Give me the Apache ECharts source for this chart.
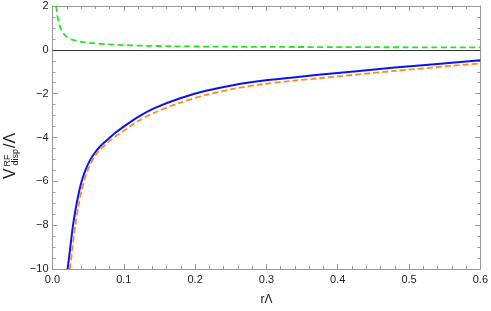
<!DOCTYPE html>
<html><head><meta charset="utf-8">
<script src="https://cdn.jsdelivr.net/npm/echarts@6/dist/echarts.min.js"></script>
<style>html,body{margin:0;padding:0;background:#fff}#c{width:491px;height:311px}</style>
</head><body><div id="c"></div>
<script>
// r·Λ values and V/Λ values
const blueR = [0.0212,0.0250,0.0289,0.0331,0.0374,0.0416,0.0465,0.0516,0.0586,0.0670,0.0779,0.0872,0.0970,0.1197,0.143,0.178,0.215,0.255,0.294,0.334,0.373,0.48,0.6];
const blueV = [-10,-9.0,-7.98,-7.15,-6.45,-5.92,-5.47,-5.1,-4.73,-4.4,-4.08,-3.81,-3.57,-3.07,-2.66,-2.22,-1.87,-1.6,-1.41,-1.27,-1.14,-0.81,-0.48];
const orangeR = [0.0244,0.0282,0.0321,0.0363,0.0406,0.0448,0.0497,0.0548,0.0618,0.0670,0.0779,0.0872,0.0970,0.1197,0.143,0.178,0.215,0.255,0.294,0.334,0.373,0.48,0.6];
const orangeV = [-10,-9.0,-7.98,-7.15,-6.45,-5.92,-5.47,-5.1,-4.73,-4.55,-4.22,-3.98,-3.76,-3.26,-2.87,-2.42,-2.06,-1.77,-1.57,-1.42,-1.3,-0.96,-0.62];
const greenR = [0.0049,0.0059,0.008,0.0105,0.0151,0.0195,0.0244,0.043,0.0896,0.164,0.3,0.45,0.6];
const greenV = [2.0,1.82,1.33,1.07,0.77,0.6,0.5,0.35,0.23,0.165,0.135,0.12,0.11];
const xTicks = {min:0, max:0.6, interval:0.1};
const yTicks = {min:-10, max:2, interval:2};

const zip = (a,b) => a.map((v,i)=>[v,b[i]]);
const chart = echarts.init(document.getElementById('c'));
const FONT = 'Liberation Sans';
const frame = '#999';
const baseAxis = {
  axisLine:{show:true,onZero:false,lineStyle:{color:frame,width:1}},
  axisTick:{show:true,inside:true,length:5,lineStyle:{color:frame}},
  splitLine:{show:false},
};
const xMinor = {minorTick:{show:true,splitNumber:5,length:3,lineStyle:{color:frame}}};
const yMinor = {minorTick:{show:true,splitNumber:4,length:3,lineStyle:{color:frame}}};
chart.setOption({
  animation:false,
  grid:{left:52.5,right:9,top:6,bottom:39,containLabel:false},
  xAxis:[
    Object.assign({type:'value',position:'bottom',min:xTicks.min,max:xTicks.max,interval:xTicks.interval,
      name:'rΛ',nameLocation:'middle',nameGap:25,nameTextStyle:{fontFamily:FONT,fontSize:12,color:'#222'},
      axisLabel:{fontFamily:FONT,fontSize:11,color:'#222',margin:5,formatter:v=>v.toFixed(1)}},baseAxis,xMinor),
    Object.assign({type:'value',position:'top',min:xTicks.min,max:xTicks.max,interval:xTicks.interval,
      axisLabel:{show:false}},baseAxis,xMinor)
  ],
  yAxis:[
    Object.assign({type:'value',position:'left',min:yTicks.min,max:yTicks.max,interval:yTicks.interval,
      axisLabel:{fontFamily:FONT,fontSize:11,color:'#222',margin:4,formatter:v=>(v<0?'\u2212'+(-v):String(v))}},baseAxis,yMinor),
    Object.assign({type:'value',position:'right',min:yTicks.min,max:yTicks.max,interval:yTicks.interval,
      axisLabel:{show:false}},baseAxis,yMinor)
  ],
  series:[
    {type:'line',data:zip(greenR,greenV),showSymbol:false,smooth:0.3,clip:true,
      lineStyle:{color:'#22e622',width:1.8,type:[6,3.5]},
      markLine:{silent:true,symbol:'none',label:{show:false},lineStyle:{color:'#333',width:1,type:'solid'},data:[{yAxis:0}]}},
    {type:'line',data:zip(blueR,blueV),showSymbol:false,smooth:0.3,clip:true,
      lineStyle:{color:'#0a14f0',width:2}},
    {type:'line',data:zip(orangeR,orangeV),showSymbol:false,smooth:0.3,clip:true,
      lineStyle:{color:'#ff8a1c',width:1.8,type:[6,3]}}
  ],
  graphic:[{
    type:'group',x:11,y:179,rotation:Math.PI/2,
    children:[
      {type:'text',x:0,y:0,style:{text:'V',font:'16px '+FONT,fill:'#222',textVerticalAlign:'middle'}},
      {type:'text',x:12.5,y:-3.5,style:{text:'RF',font:'9px '+FONT,fill:'#222',textVerticalAlign:'middle'}},
      {type:'text',x:13.5,y:4.5,style:{text:'disp',font:'9px '+FONT,fill:'#222',textVerticalAlign:'middle'}},
      {type:'text',x:31,y:0,style:{text:'/Λ',font:'16px '+FONT,fill:'#222',textVerticalAlign:'middle'}}
    ]
  }]
});
</script></body></html>
